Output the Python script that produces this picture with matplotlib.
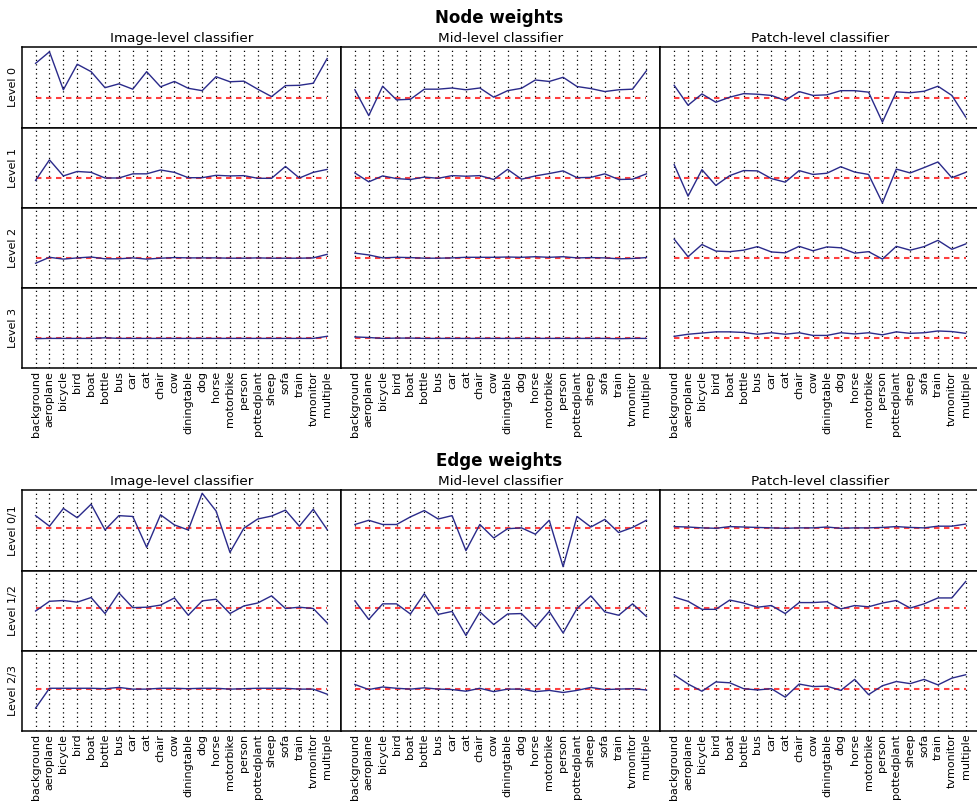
import matplotlib
matplotlib.use("Agg")
import matplotlib.pyplot as plt

classes = ["background", "aeroplane", "bicycle", "bird", "boat", "bottle", "bus", "car",
           "cat", "chair", "cow", "diningtable", "dog", "horse", "motorbike", "person",
           "pottedplant", "sheep", "sofa", "train", "tvmonitor", "multiple"]
columns = ["Image-level classifier", "Mid-level classifier", "Patch-level classifier"]
node_levels = ["Level 0", "Level 1", "Level 2", "Level 3"]
edge_levels = ["Level 0/1", "Level 1/2", "Level 2/3"]

# node weights, one list per (level, classifier)
node_img_0 = [2.16, 2.55, 1.27, 2.13, 1.88, 1.34, 1.47, 1.29, 1.88, 1.37, 1.55,
              1.32, 1.24, 1.71, 1.54, 1.56, 1.29, 1.04, 1.41, 1.42, 1.49, 2.32]
node_mid_0 = [1.27, 0.40, 1.39, 0.93, 0.95, 1.29, 1.29, 1.33, 1.27, 1.33, 1.02,
              1.24, 1.32, 1.60, 1.55, 1.69, 1.38, 1.31, 1.21, 1.27, 1.29, 1.91]
node_patch_0 = [1.42, 0.75, 1.13, 0.85, 1.02, 1.14, 1.12, 1.08, 0.91, 1.21, 1.08,
                1.10, 1.24, 1.24, 1.19, 0.18, 1.20, 1.17, 1.22, 1.39, 1.08, 0.35]
node_img_1 = [0.92, 1.61, 1.07, 1.22, 1.19, 1.00, 1.00, 1.14, 1.14, 1.27, 1.19,
              1.01, 1.01, 1.09, 1.07, 1.08, 0.99, 0.99, 1.39, 1.00, 1.19, 1.29]
node_mid_1 = [1.17, 0.87, 1.07, 0.98, 0.95, 1.03, 0.99, 1.08, 1.06, 1.08, 0.95,
              1.29, 0.96, 1.07, 1.15, 1.24, 1.01, 1.02, 1.14, 0.95, 0.96, 1.14]
node_patch_1 = [1.45, 0.39, 1.28, 0.75, 1.08, 1.25, 1.24, 0.98, 0.86, 1.25, 1.12,
                1.16, 1.38, 1.20, 1.12, 0.16, 1.30, 1.17, 1.35, 1.54, 1.01, 1.19]
node_img_2 = [0.83, 1.03, 0.97, 1.01, 1.04, 0.98, 0.98, 1.01, 0.97, 1.00, 1.02,
              1.01, 1.01, 1.01, 1.00, 1.00, 1.01, 1.00, 1.00, 1.00, 1.01, 1.13]
node_mid_2 = [1.17, 1.11, 1.01, 1.03, 1.02, 1.00, 1.00, 1.01, 1.03, 1.03, 1.03,
              1.04, 1.03, 1.05, 1.03, 1.05, 1.01, 1.02, 1.01, 0.98, 0.99, 1.02]
node_patch_2 = [1.64, 1.05, 1.46, 1.24, 1.22, 1.27, 1.39, 1.21, 1.18, 1.40, 1.25,
                1.38, 1.35, 1.17, 1.22, 0.97, 1.40, 1.27, 1.39, 1.60, 1.30, 1.48]
node_img_3 = [0.99, 1.00, 1.00, 1.00, 1.00, 1.02, 1.00, 1.00, 1.00, 1.00, 1.00,
              1.00, 1.00, 1.00, 1.00, 1.00, 1.00, 1.00, 1.00, 1.00, 1.00, 1.07]
node_mid_3 = [1.05, 1.03, 1.00, 1.01, 1.01, 1.00, 1.00, 1.00, 1.00, 1.00, 1.00,
              1.00, 1.00, 1.00, 1.00, 1.00, 1.00, 1.00, 1.00, 0.99, 1.00, 1.00]
node_patch_3 = [1.07, 1.14, 1.18, 1.22, 1.22, 1.20, 1.14, 1.19, 1.14, 1.19, 1.10,
                1.10, 1.19, 1.15, 1.19, 1.12, 1.22, 1.17, 1.19, 1.25, 1.23, 1.17]

# edge weights
edge_img_0 = [1.30, 1.05, 1.47, 1.25, 1.57, 0.96, 1.30, 1.28, 0.55, 1.32, 1.08,
              0.96, 1.83, 1.41, 0.43, 1.00, 1.22, 1.29, 1.43, 1.05, 1.45, 0.97]
edge_mid_0 = [1.09, 1.19, 1.09, 1.09, 1.27, 1.42, 1.22, 1.30, 0.47, 1.09, 0.77,
              0.99, 1.01, 0.86, 1.19, 0.09, 1.28, 1.03, 1.21, 0.90, 1.02, 1.19]
edge_patch_0 = [1.04, 1.03, 1.01, 1.00, 1.04, 1.03, 1.02, 1.01, 1.00, 1.01, 1.01,
                1.03, 1.00, 1.01, 1.01, 1.02, 1.04, 1.02, 1.01, 1.05, 1.05, 1.10]
edge_img_1 = [0.94, 1.17, 1.19, 1.15, 1.26, 0.88, 1.37, 1.02, 1.03, 1.08, 1.25,
              0.84, 1.18, 1.22, 0.88, 1.06, 1.13, 1.30, 1.00, 1.03, 1.00, 0.66]
edge_mid_1 = [1.18, 0.74, 1.11, 1.11, 0.87, 1.35, 0.86, 0.93, 0.36, 0.92, 0.62,
              0.87, 0.88, 0.55, 0.93, 0.42, 1.00, 1.30, 0.92, 0.84, 1.11, 0.81]
edge_patch_1 = [1.27, 1.17, 0.98, 0.98, 1.20, 1.13, 1.03, 1.07, 0.88, 1.14, 1.14,
                1.16, 0.99, 1.07, 1.04, 1.13, 1.19, 1.01, 1.11, 1.25, 1.25, 1.64]
edge_img_2 = [0.54, 1.01, 1.01, 1.01, 1.01, 1.00, 1.03, 0.99, 0.99, 1.01, 1.01,
              1.00, 1.01, 1.01, 0.99, 1.00, 1.01, 1.01, 1.01, 0.99, 0.99, 0.87]
edge_mid_2 = [1.10, 0.98, 1.04, 1.01, 0.99, 1.02, 0.99, 0.98, 0.94, 1.01, 0.93,
              0.99, 0.99, 0.93, 0.96, 0.91, 0.96, 1.03, 0.98, 0.99, 1.00, 0.97]
edge_patch_2 = [1.33, 1.11, 0.94, 1.16, 1.14, 1.00, 0.97, 1.00, 0.80, 1.11, 1.05,
                1.06, 0.96, 1.22, 0.86, 1.07, 1.17, 1.12, 1.22, 1.09, 1.25, 1.33]

node_data = [[node_img_0, node_mid_0, node_patch_0],
             [node_img_1, node_mid_1, node_patch_1],
             [node_img_2, node_mid_2, node_patch_2],
             [node_img_3, node_mid_3, node_patch_3]]
edge_data = [[edge_img_0, edge_mid_0, edge_patch_0],
             [edge_img_1, edge_mid_1, edge_patch_1],
             [edge_img_2, edge_mid_2, edge_patch_2]]

W, H = 977, 802
fig = plt.figure(figsize=(W / 100, H / 100), dpi=100)

x = list(range(len(classes)))
left_px, col_w = 21.7, 319.3
row_h = 80.2


def draw_group(data, levels, top_px, ymax, title, title_y):
    for r, row in enumerate(data):
        for c, vals in enumerate(row):
            l = (left_px + c * col_w) / W
            b = (H - top_px - (r + 1) * row_h) / H
            ax = fig.add_axes([l, b, col_w / W, row_h / H])
            ax.plot(x, [1.0] * len(x), color="red", lw=1.5, alpha=0.75,
                    dashes=(2.6, 2.2))
            ax.plot(x, vals, color="#2a2a8a", lw=1.0)
            ax.set_xlim(-1, len(classes))
            ax.set_ylim(0, ymax)
            ax.set_yticks([])
            ax.set_xticks(x)
            ax.grid(axis="x", color="black", linestyle=(0, (1, 2.6)), lw=0.9)
            ax.tick_params(length=0, pad=2)
            for s in ax.spines.values():
                s.set_linewidth(1.1)
            if r == len(data) - 1:
                ax.set_xticklabels(classes, rotation=90, fontsize=8)
            else:
                ax.set_xticklabels([])
            if r == 0:
                ax.set_title(columns[c], fontsize=9.7, pad=3.5)
            if c == 0:
                ax.set_ylabel(levels[r], fontsize=8, labelpad=3)
    fig.text(0.5 * (2 * left_px + 3 * col_w - 3) / W, 1 - title_y / H, title,
             ha="center", va="center", fontsize=12, fontweight="bold")


draw_group(node_data, node_levels, 47.3, 2.7, "Node weights", 18)
draw_group(edge_data, edge_levels, 490.3, 1.9, "Edge weights", 461)

fig.savefig("out.png", dpi=100)
